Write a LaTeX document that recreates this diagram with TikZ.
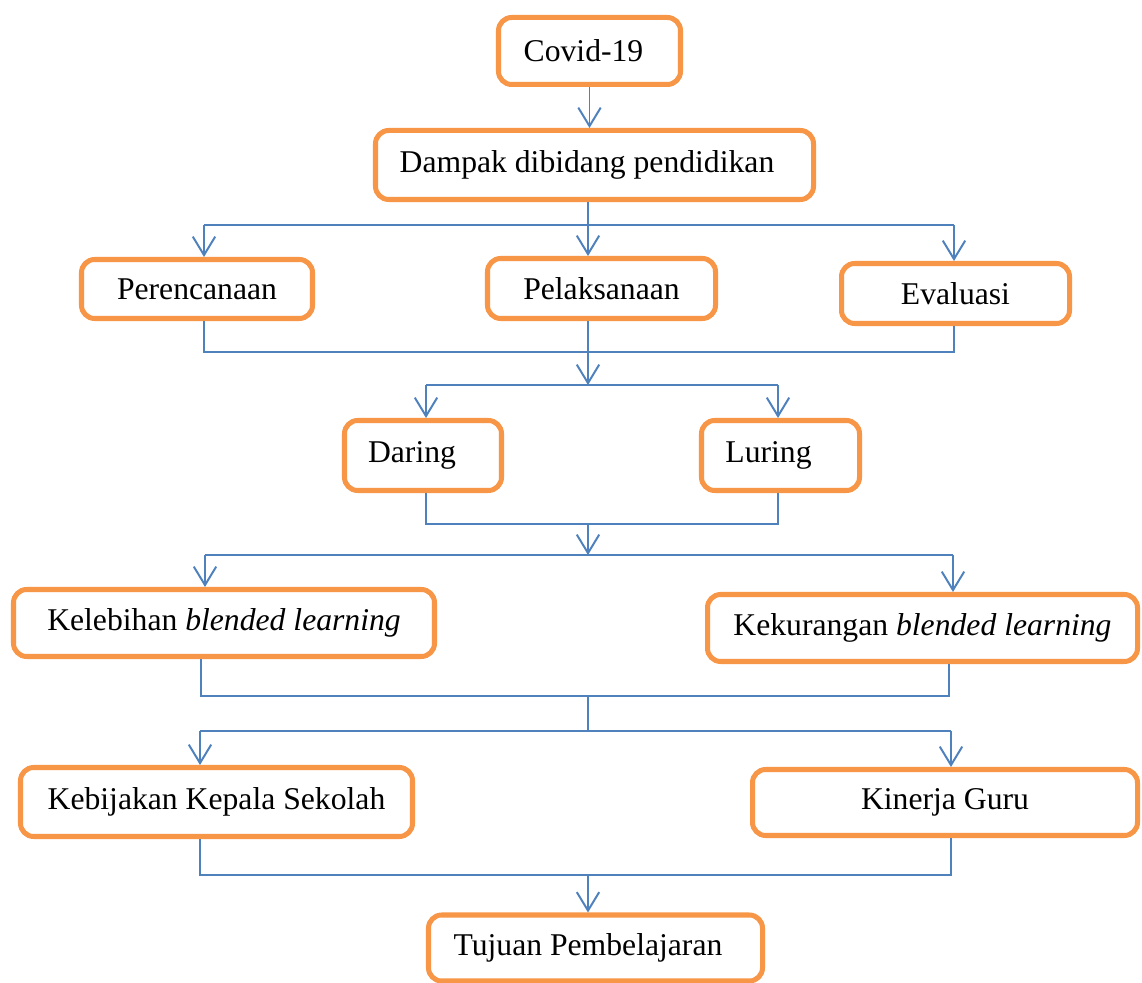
\documentclass[tikz,border=0pt]{standalone}
\usepackage{fontspec}
\setmainfont{Liberation Serif}
\usetikzlibrary{arrows.meta}
\definecolor{boxorange}{HTML}{F79646}
\definecolor{lineblue}{HTML}{4F81BD}
\newdimen\unitpx \unitpx=0.379pt
\tikzset{
  box/.style={shape=rectangle, rounded corners=5pt, draw=boxorange, line width=1.9pt, fill=white, inner sep=0pt, font=\fontsize{12pt}{14pt}\selectfont},
  link/.style={draw=lineblue, line width=0.75pt},
  arrow/.style={link, -{Straight Barb[length=7pt,width=8.5pt]}},
}
\begin{document}
\begin{tikzpicture}[x=0.379pt, y=-0.379pt]
\useasboundingbox (0,0) rectangle (1142,983);
\node[box, minimum width=182\unitpx, minimum height=67\unitpx] (covid) at (589.5,51) {Covid-19\kern12\unitpx};
\node[box, minimum width=438\unitpx, minimum height=69\unitpx] (dampak) at (594.5,165) {Dampak dibidang pendidikan\kern15\unitpx};
\node[box, minimum width=231\unitpx, minimum height=59\unitpx] (peren) at (197,289) {Perencanaan};
\node[box, minimum width=228\unitpx, minimum height=60\unitpx] (pelak) at (601.5,288.5) {Pelaksanaan};
\node[box, minimum width=228\unitpx, minimum height=60\unitpx] (eval) at (955.5,293.5) {Evaluasi};
\node[box, minimum width=157\unitpx, minimum height=70\unitpx] (daring) at (423,455.5) {Daring\kern22\unitpx};
\node[box, minimum width=158\unitpx, minimum height=70\unitpx] (luring) at (780.5,455.5) {Luring\kern24\unitpx};
\node[box, minimum width=421\unitpx, minimum height=67\unitpx] (lebih) at (224,623) {Kelebihan \textit{blended learning}};
\node[box, minimum width=430\unitpx, minimum height=67\unitpx] (kurang) at (922.5,628) {Kekurangan \textit{blended learning}};
\node[box, minimum width=392\unitpx, minimum height=69\unitpx] (bijak) at (216.5,802) {Kebijakan Kepala Sekolah};
\node[box, minimum width=385\unitpx, minimum height=66\unitpx] (kinerja) at (945,802.5) {Kinerja Guru};
\node[box, minimum width=334\unitpx, minimum height=66\unitpx] (tujuan) at (595.5,948) {Tujuan Pembelajaran\kern15\unitpx};
% junction points of the connector lines
\coordinate (bus1) at (588,225);  \coordinate (bus1w) at (204,225); \coordinate (bus1e) at (954,225);
\coordinate (bus2w) at (204,352); \coordinate (bus2e) at (954,352);
\coordinate (bus3) at (588,385);  \coordinate (bus3w) at (426,385); \coordinate (bus3e) at (778,385);
\coordinate (bus4w) at (426,524); \coordinate (bus4e) at (778,524);
\coordinate (bus5) at (588,555);  \coordinate (bus5w) at (205,555); \coordinate (bus5e) at (953,555);
\coordinate (bus6w) at (201,696); \coordinate (bus6e) at (949,696);
\coordinate (bus7) at (588,731);  \coordinate (bus7w) at (200,731); \coordinate (bus7e) at (951,731);
\coordinate (bus8) at (588,875);  \coordinate (bus8w) at (200,875); \coordinate (bus8e) at (951,875);
\draw[arrow] (covid.south) -- (covid.south |- dampak.north);
\draw[link] (dampak.south -| bus1) -- (bus1);
\draw[link] (bus1w) -- (bus1e);
\draw[arrow] (bus1w) -- (bus1w |- peren.north);
\draw[arrow] (bus1) -- (bus1 |- pelak.north);
\draw[arrow] (bus1e) -- (bus1e |- eval.north);
\draw[link] (peren.south -| bus2w) -- (bus2w) -- (bus2e) -- (eval.south -| bus2e);
\draw[arrow] (pelak.south -| bus3) -- (bus3);
\draw[link] (bus3w) -- (bus3e);
\draw[arrow] (bus3w) -- (bus3w |- daring.north);
\draw[arrow] (bus3e) -- (bus3e |- luring.north);
\draw[link] (daring.south -| bus4w) -- (bus4w) -- (bus4e) -- (luring.south -| bus4e);
\draw[arrow] (bus5 |- bus4w) -- (bus5);
\draw[link] (bus5w) -- (bus5e);
\draw[arrow] (bus5w) -- (bus5w |- lebih.north);
\draw[arrow] (bus5e) -- (bus5e |- kurang.north);
\draw[link] (lebih.south -| bus6w) -- (bus6w) -- (bus6e) -- (kurang.south -| bus6e);
\draw[link] (bus7 |- bus6w) -- (bus7);
\draw[link] (bus7w) -- (bus7e);
\draw[arrow] (bus7w) -- (bus7w |- bijak.north);
\draw[arrow] (bus7e) -- (bus7e |- kinerja.north);
\draw[link] (bijak.south -| bus8w) -- (bus8w) -- (bus8e) -- (kinerja.south -| bus8e);
\draw[arrow] (bus8) -- (bus8 |- tujuan.north);
\end{tikzpicture}
\end{document}
